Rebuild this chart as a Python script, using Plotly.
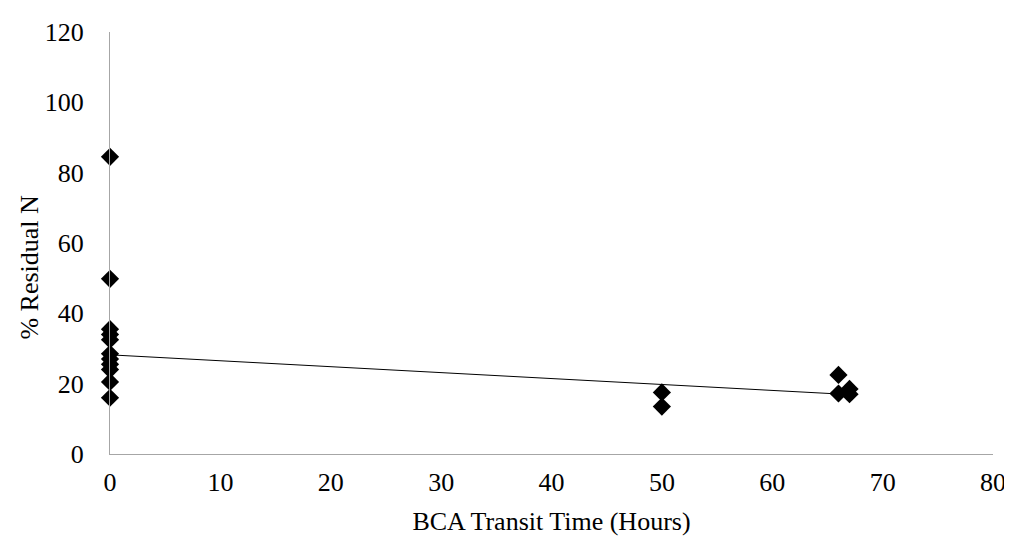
import plotly.graph_objects as go

# Data
transit_hours = [0, 0, 0, 0, 0, 0, 0, 0, 0, 0, 0, 50, 50, 66, 66, 67, 67]
residual_n = [84.5, 49.8, 35.5, 34, 32.5, 28.5, 27, 25.5, 24, 20.5, 16,
              17.5, 13.5, 22.5, 17.2, 18.5, 17]

# Linear trendline
trend_x = [0, 67]
trend_y = [28.2, 16.9]

x_ticks = [0, 10, 20, 30, 40, 50, 60, 70, 80]
y_ticks = [0, 20, 40, 60, 80, 100, 120]

font_family = "Liberation Serif, Times New Roman, serif"

fig = go.Figure()
fig.add_trace(go.Scatter(
    x=trend_x, y=trend_y, mode="lines",
    line=dict(color="black", width=1), showlegend=False, hoverinfo="skip",
    cliponaxis=False))
fig.add_trace(go.Scatter(
    x=transit_hours, y=residual_n, mode="markers",
    marker=dict(symbol="diamond", size=14, color="black"),
    showlegend=False, cliponaxis=False))

fig.add_annotation(
    text="% Residual N", xref="paper", yref="y", x=0, y=53,
    xanchor="center", yanchor="middle", xshift=-80, textangle=-90,
    showarrow=False, font=dict(size=26, family=font_family, color="black"))

fig.update_layout(
    width=1012, height=544,
    margin=dict(l=102, r=27, t=10, b=98),
    paper_bgcolor="white", plot_bgcolor="white",
    font=dict(family=font_family, size=26, color="black"),
    xaxis=dict(
        range=[0, 80], tickvals=x_ticks, showgrid=False, zeroline=False,
        showline=True, linecolor="#a6a6a6", linewidth=1, ticks="",
        tickfont=dict(size=26), ticklabelstandoff=5,
        title=dict(text="BCA Transit Time (Hours)", font=dict(size=26), standoff=15)),
    yaxis=dict(
        range=[0, 120], tickvals=y_ticks, showgrid=False, zeroline=False,
        showline=True, linecolor="#a6a6a6", linewidth=1, ticks="",
        tickfont=dict(size=26), ticklabelstandoff=20,
        ticklabeloverflow="allow"),
)

fig.write_html("out.html")
